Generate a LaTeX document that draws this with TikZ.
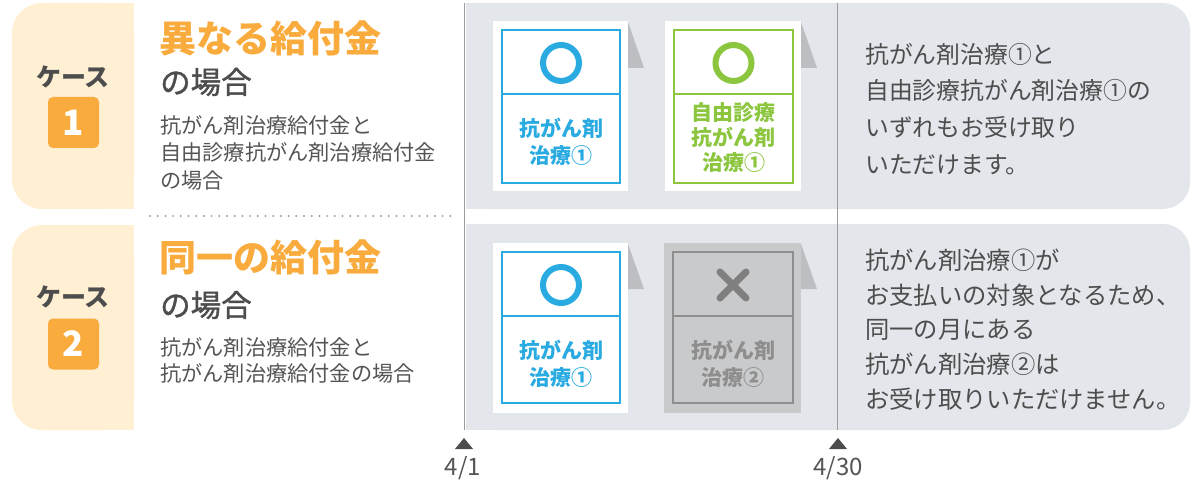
\documentclass[tikz,border=0pt]{standalone}
\usepackage{fontspec}
\setmainfont{Noto Sans CJK JP}
\newfontfamily\medfont{Noto Sans CJK JP}[FakeBold=1.2]
\definecolor{cream}{HTML}{FFF0D3}
\definecolor{orangeA}{HTML}{F9AC3D}
\definecolor{panelgray}{HTML}{E3E7EB}
\definecolor{vline}{HTML}{9C9C9C}
\definecolor{textdark}{HTML}{4D4D4D}
\definecolor{textmid}{HTML}{555555}
\definecolor{blueA}{HTML}{29ABE2}
\definecolor{greenA}{HTML}{8CC63F}
\definecolor{tabgray}{HTML}{BDBEC1}
\definecolor{cardgray}{HTML}{C9CACC}
\definecolor{bordergray}{HTML}{8E8E8E}
\definecolor{xgray}{HTML}{7F7F7F}
\begin{document}
\begin{tikzpicture}[x=1pt,y=-1pt,
  casebg/.style={fill=cream},
  panelbg/.style={fill=panelgray},
  timeline/.style={draw=vline,line width=1.6pt},
  dotline/.style={draw=vline,line width=2.2pt,line cap=round,dash pattern=on 0pt off 7.7pt},
  casetext/.style={inner sep=0,text=textdark,font=\fontsize{25}{30}\selectfont\bfseries},
  badge/.style={fill=orangeA,rounded corners=5pt,minimum size=51pt,inner sep=0,text=white,font=\fontsize{35}{40}\selectfont\bfseries},
  titletext/.style={anchor=west,inner sep=0,text=orangeA,font=\fontsize{37}{42}\selectfont\bfseries},
  basho/.style={anchor=west,inner sep=0,text=textdark,font=\fontsize{30.5}{34}\medfont},
  subtext/.style={anchor=west,inner sep=0,align=left,text=textmid},
  paper/.style={fill=white},
  tab/.style={fill=tabgray},
  okring/.style={circle,line width=6pt,minimum size=36pt,inner sep=0},
  cardtext/.style={inner sep=0,align=center,font=\fontsize{21}{27}\selectfont\bfseries},
  righttext/.style={anchor=west,inner sep=0,align=left,text=textdark},
  marker/.style={fill=textdark},
  datelabel/.style={inner sep=0,text=textmid,font=\fontsize{24}{28}\selectfont}
]
\useasboundingbox (0,0) rectangle (1198,481);
\fill[white] (0,0) rectangle (1198,481);

% case backgrounds
\fill[casebg,rounded corners=30pt] (12,3) rectangle (134,209);
\fill[casebg] (100,3) rectangle (134,209);
\fill[casebg,rounded corners=30pt] (12,225) rectangle (134,430);
\fill[casebg] (100,225) rectangle (134,430);

% grey panels
\fill[panelbg,rounded corners=27pt] (466,3) rectangle (1190,209);
\fill[panelbg] (466,3) rectangle (530,209);
\fill[panelbg,rounded corners=27pt] (466,224) rectangle (1190,430);
\fill[panelbg] (466,224) rectangle (530,430);

% time lines
\coordinate (t1top) at (464.5,3);
\coordinate (t1bot) at (464.5,430);
\coordinate (t2top) at (837.5,3);
\coordinate (t2bot) at (837.5,430);
\draw[timeline] (t1top) -- (t1bot);
\draw[timeline] (t2top) -- (t2bot);

% dotted separator
\coordinate (sepL) at (150,216);
\coordinate (sepR) at (455,216);
\draw[dotline] (sepL) -- (sepR);

% case 1 left
\node[casetext] (case1) at (73,77) {ケース};
\node[badge] (badge1) at (73.5,122.5) {1};
\node[titletext] (title1) at (159,38) {異なる給付金};
\node[basho] (basho1) at (160,82) {の場合};
\node[subtext,font=\fontsize{21.2}{27.5}\selectfont] (sub1) at (160,152.5) {抗がん剤治療給付金と\\自由診療抗がん剤治療給付金\\の場合};

% case 2 left
\node[casetext] (case2) at (73,297) {ケース};
\node[badge] (badge2) at (73.5,344) {2};
\node[titletext] (title2) at (159,257) {同一の給付金};
\node[basho] (basho2) at (160,305) {の場合};
\node[subtext,font=\fontsize{21.2}{26}\selectfont] (sub2) at (160,360) {抗がん剤治療給付金と\\抗がん剤治療給付金の場合};

% card 1A (blue)
\fill[tab] (628,22) -- (644,68) -- (628,68) -- cycle;
\fill[paper] (493,21) rectangle (628,191);
\draw[blueA,line width=2pt] (502,30) rectangle (620,183);
\draw[blueA,line width=2pt] (502,94) -- (620,94);
\node[okring,draw=blueA] (ok1a) at (561,63) {};
\node[cardtext,text=blueA] (card1a) at (561,141.5) {抗がん剤\\治療①};

% card 1B (green)
\fill[tab] (801,22) -- (817,68) -- (801,68) -- cycle;
\fill[paper] (665,21) rectangle (801,191);
\draw[greenA,line width=2pt] (674,30) rectangle (793,183);
\draw[greenA,line width=2pt] (674,94) -- (793,94);
\node[okring,draw=greenA] (ok1b) at (733.5,63) {};
\node[cardtext,text=greenA,font=\fontsize{21}{25}\selectfont\bfseries] (card1b) at (733.5,138) {自由診療\\抗がん剤\\治療①};

% card 2A (blue)
\fill[tab] (628,244) -- (644,289) -- (628,289) -- cycle;
\fill[paper] (493,243) rectangle (628,413);
\draw[blueA,line width=2pt] (502,252) rectangle (620,403);
\draw[blueA,line width=2pt] (502,316) -- (620,316);
\node[okring,draw=blueA] (ok2a) at (561,285) {};
\node[cardtext,text=blueA] (card2a) at (561,363.5) {抗がん剤\\治療①};

% card 2B (grey)
\fill[tab] (801,244) -- (817,289) -- (801,289) -- cycle;
\fill[cardgray] (664,243) rectangle (801,413);
\draw[bordergray,line width=2pt] (673,252) rectangle (793,403);
\draw[bordergray,line width=2pt] (673,316) -- (793,316);
\coordinate (xa) at (720,272);
\coordinate (xb) at (746,298);
\coordinate (xc) at (746,272);
\coordinate (xd) at (720,298);
\draw[xgray,line width=7pt,line cap=round] (xa) -- (xb);
\draw[xgray,line width=7pt,line cap=round] (xc) -- (xd);
\node[cardtext,text=bordergray] (card2b) at (733,363.5) {抗がん剤\\治療②};

% right texts
\node[righttext,font=\fontsize{23.8}{36.7}\selectfont] (res1) at (865,109) {抗がん剤治療①と\\自由診療抗がん剤治療①の\\いずれもお受け取り\\いただけます。};
\node[righttext,font=\fontsize{24.3}{34.8}\selectfont] (res2) at (865,329.5) {抗がん剤治療①が\\お支払いの対象となるため、\\同一の月にある\\抗がん剤治療②は\\お受け取りいただけません。};

% date markers
\fill[marker] (455,449) -- (473,449) -- (464,438) -- cycle;
\fill[marker] (829,449) -- (847,449) -- (838,438) -- cycle;
\node[datelabel] (d1) at (463,468) {4/1};
\node[datelabel] (d2) at (838,468) {4/30};
\end{tikzpicture}
\end{document}
